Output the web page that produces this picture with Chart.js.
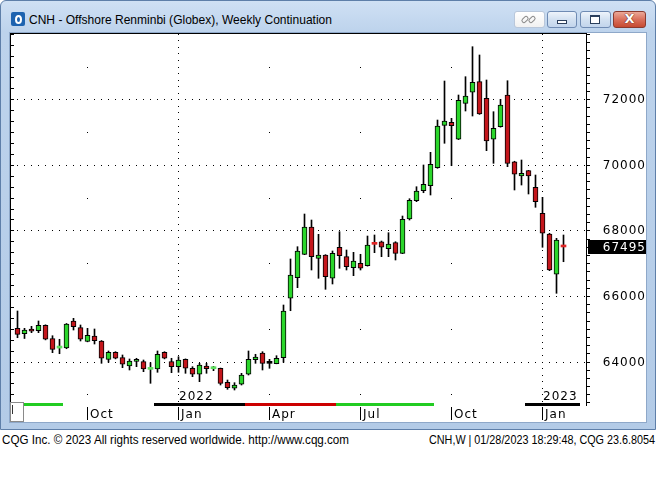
<!DOCTYPE html>
<html><head><meta charset="utf-8">
<script src="https://cdn.jsdelivr.net/npm/chart.js@4.4.1/dist/chart.umd.min.js"></script>
<style>
html,body{margin:0;padding:0;background:#fff;width:656px;height:496px;overflow:hidden;font-family:"Liberation Sans",Arial,sans-serif;position:relative}
#win{position:absolute;left:0;top:0;width:654px;height:428px;border:1px solid #5e7fa9;border-radius:6px 6px 0 0;background:linear-gradient(#cfe0f4 0px,#bdd3ec 31px,#b3cbe7 100%)}
#panel{position:absolute;left:9px;top:32px;width:636px;height:389px;background:#fff;border:1px solid #8ea8c9}
#c{position:absolute;left:10px;top:33px;width:636px;height:389px}
#icon{position:absolute;left:11px;top:12px;width:14px;height:14px;background:#1d63b0;border-radius:2px}
#icon div{position:absolute;left:4px;top:3px;width:3px;height:5px;border:2px solid #fff;border-radius:50%}
#title{position:absolute;left:29px;top:12px;font-size:13px;color:#000;white-space:nowrap;transform-origin:left top}
.btn{position:absolute;top:11px;height:15px;border:1px solid #6f8bb3;border-radius:3px;background:linear-gradient(#eef4fb,#d3e1f1 50%,#c2d5ec)}
#bl{left:514px;width:29px;background:linear-gradient(#ffffff,#f1f1f1);border-color:#b9c7da}
#bl i{position:absolute;width:6px;height:3px;border:1.5px solid #8b8b8b;border-radius:3px;transform:rotate(-45deg)}
#bm{left:547px;width:28px}
#bm i{position:absolute;left:9px;top:8px;width:8px;height:2px;border:1px solid #2b3f5c;background:#fff}
#bx{left:580px;width:29px}
#bx i{position:absolute;left:9px;top:3px;width:8px;height:6px;border:1px solid #2b3f5c;border-top-width:2px;background:#fff}
#bc{left:613px;width:31px;border-color:#8a3a2e;background:linear-gradient(#eba898,#d9705c 50%,#c64a31)}
#bc i{position:absolute;left:0;top:-1px;width:31px;text-align:center;font:bold 13px "DejaVu Sans",sans-serif;color:#fff;font-style:normal;text-shadow:0 0 1px #5a1a10,0 0 1px #5a1a10}
.foot{position:absolute;top:433px;font-size:12px;color:#000;white-space:nowrap;transform-origin:left top}
</style></head>
<body>
<div id="win"></div>
<div id="icon"><div></div></div>
<div id="title">CNH - Offshore Renminbi (Globex), Weekly Continuation</div>
<div class="btn" id="bl"><i style="left:6px;top:5px"></i><i style="left:13px;top:5px"></i></div>
<div class="btn" id="bm"><i></i></div>
<div class="btn" id="bx"><i></i></div>
<div class="btn" id="bc"><i>X</i></div>
<div id="panel"></div>
<canvas id="c" width="636" height="389"></canvas>
<div class="foot" id="f1">CQG Inc. © 2023 All rights reserved worldwide. http://www.cqg.com</div>
<div class="foot" id="f2">CNH,W | 01/28/2023 18:29:48, CQG 23.6.8054</div>
<script>
// ---- data (weekly bars, index 0 = first visible week) ----
const opens  = [65013,64848,64992,64940,65105,64696,64410,64412,65236,65032,64610,64778,64626,64067,64281,64116,63863,64006,63994,63760,
                63771,64281,63994,63842,64067,63793,63610,63863,63780,63793,63366,63183,63305,63610,64055,64260,63945,63933,64116,65929,
                66557,67271,68104,67149,67250,66539,67485,67198,66862,66996,66923,67595,67655,67442,67625,67301,68348,68906,69211,69364,
                69913,71207,71298,70780,71878,72214,72537,72031,70780,71164,72131,70096,69660,69822,69315,68522,67890,66661,67510];
const highs  = [65541,65013,65074,65236,65120,64787,64678,65160,65318,65114,65013,64992,64640,64321,64300,64199,64077,64098,64046,63964,
                64321,64300,64098,64147,64080,63842,63945,63945,63850,63800,63436,63354,63640,64321,64220,64299,64067,64177,65724,67128,
                67503,68500,68317,67881,67260,67372,67961,67402,67332,67271,67829,67860,67676,67930,67655,68439,68967,69333,69996,70383,
                71368,72558,71420,72131,72690,73605,73352,72589,71622,72000,72567,70110,70148,69830,69690,69010,67912,67759,67860];
const lows   = [64726,64702,64879,64879,64660,64269,64238,64390,64961,64626,64600,64534,63945,63976,64080,63811,63741,63842,63689,63335,
                63671,64080,63659,63671,63640,63537,63384,63640,63720,63283,63152,63131,63283,63588,63945,63741,63793,63930,63976,65550,
                66252,67260,66792,66539,66203,66365,66844,66792,66618,66792,66910,67320,67198,67198,67097,67290,68317,68876,69150,69080,
                69895,70658,69974,70770,71643,71490,71540,70432,70047,71150,69944,69233,69385,69111,68705,67485,66771,66081,67045];
const closes = [64830,64961,64922,65105,64678,64372,64430,65144,65062,64678,64800,64635,64098,64281,64098,63915,64015,64067,63771,63780,
                64220,64098,63842,64046,63793,63610,63894,63781,63800,63335,63201,63283,63588,64067,64138,63945,63945,64098,65541,66639,
                67372,68104,67198,67250,66588,67301,67228,66893,67067,66844,67555,67575,67485,67585,67301,68339,68918,69202,69407,70017,
                71185,71338,71195,71970,72101,72519,71551,70728,71115,71826,70047,69712,69742,69660,68876,67912,66792,67707,67495];
const lastPrice = 67495;
const yTickValues = [64000, 66000, 68000, 70000, 72000];
const monthTickIdx = [10, 23, 36, 49, 62, 75];
const monthTickLabels = ['Oct', 'Jan', 'Apr', 'Jul', 'Oct', 'Jan'];
const yearIdx = [23, 75];
const yearLabels = ['2022', '2023'];
const stripBreaks = [6.5, 19.5, 32.5, 45.5, 59.5, 72.5, 80.4];
const stripColors = ['#22cc22', '#ffffff', '#000000', '#cc0000', '#22cc22', '#ffffff', '#000000'];

const GREEN = '#2bd62b', RED = '#c4161c';
const isDash = i => Math.abs(closes[i] - opens[i]) < 40;

const deco = {
  id: 'deco',
  beforeDatasetsDraw(chart) {
    const {ctx, chartArea: a, scales: {x, y}} = chart;
    ctx.save();
    ctx.fillStyle = '#000';
    const iMin = Math.ceil(x.min), iMax = Math.floor(x.max);
    for (const v of yTickValues) {
      const py = Math.round(y.getPixelForValue(v));
      for (let i = iMin; i <= iMax; i++) {
        const px = Math.floor(x.getPixelForValue(i));
        if (px > a.left + 2 && px < a.right - 1) ctx.fillRect(px, py, 1, 1);
      }
    }
    for (const idx of yearIdx) {
      const px = Math.floor(x.getPixelForValue(idx));
      for (let v = Math.ceil(y.min / 200) * 200; v <= y.max; v += 200) {
        ctx.fillRect(px, Math.round(y.getPixelForValue(v)), 1, 1);
      }
    }
    for (const idx of monthTickIdx) {
      if (yearIdx.includes(idx)) continue;
      const px = Math.floor(x.getPixelForValue(idx));
      for (let v = Math.ceil((y.min - 1000) / 2000) * 2000 + 1000; v <= y.max; v += 2000) {
        ctx.fillRect(px, Math.round(y.getPixelForValue(v)), 1, 1);
      }
    }
    ctx.restore();
  },
  afterDraw(chart) {
    const {ctx, chartArea: a, scales: {x, y}} = chart;
    ctx.save();
    ctx.fillStyle = '#000';
    // frame lines
    ctx.fillRect(a.left, a.top, a.right - a.left + 1, 1);
    ctx.fillRect(a.left, a.top, 1, a.bottom - a.top);
    ctx.fillRect(a.right, a.top, 1, a.bottom - a.top + 3);
    // right axis minor ticks (every 250)
    for (let v = Math.ceil(y.min / 250) * 250; v <= y.max; v += 250) {
      ctx.fillRect(a.right + 1, Math.round(y.getPixelForValue(v)), 3, 1);
    }
    // left inner ticks (every 1000/3)
    for (let n = Math.ceil(y.min * 3 / 1000); n * 1000 / 3 <= y.max; n++) {
      ctx.fillRect(a.left + 1, Math.round(y.getPixelForValue(n * 1000 / 3)), 3, 1);
    }
    // y labels
    ctx.font = '12px "DejaVu Sans"';
    ctx.letterSpacing = '1px';
    ctx.textAlign = 'right';
    ctx.textBaseline = 'middle';
    for (const v of yTickValues) {
      ctx.fillText(String(v), chart.width, Math.round(y.getPixelForValue(v)) + 1);
    }
    // last price box
    const pp = Math.round(y.getPixelForValue(lastPrice));
    ctx.fillStyle = '#000';
    ctx.fillRect(a.right + 2, pp - 7, chart.width - a.right - 2, 14);
    ctx.fillStyle = '#fff';
    ctx.fillText(String(lastPrice), chart.width, pp + 1);
    // year labels inside plot
    ctx.fillStyle = '#000';
    ctx.textAlign = 'left';
    ctx.textBaseline = 'alphabetic';
    yearIdx.forEach((idx, k) => {
      const px = Math.floor(x.getPixelForValue(idx));
      ctx.fillText(yearLabels[k], px + 1, a.bottom - 3);
    });
    // contract strip
    let start = x.min;
    stripBreaks.forEach((b, k) => {
      const x0 = Math.round(x.getPixelForValue(start)), x1 = Math.round(x.getPixelForValue(b));
      ctx.fillStyle = stripColors[k];
      ctx.fillRect(x0, a.bottom, x1 - x0, 3);
      start = b;
    });
    // month ticks & labels
    ctx.fillStyle = '#000';
    ctx.font = '12px "DejaVu Sans"';
    ctx.letterSpacing = '1px';
    monthTickIdx.forEach((idx, k) => {
      const px = Math.floor(x.getPixelForValue(idx));
      ctx.fillRect(px, a.bottom + 4, 1, 13);
      ctx.fillText(monthTickLabels[k], px + 3, a.bottom + 15);
    });
    // scroll box
    ctx.fillStyle = '#fff';
    ctx.fillRect(a.left, a.bottom - 1, 14, 20);
    ctx.strokeStyle = '#8a8a8a';
    ctx.lineWidth = 1;
    ctx.strokeRect(a.left + 0.5, a.bottom - 0.5, 13, 19);
    ctx.fillStyle = '#333';
    ctx.fillRect(a.left + 2, a.bottom + 2, 1, 9);
    ctx.restore();
  }
};

const idx = opens.map((_, i) => i);
new Chart(document.getElementById('c'), {
  type: 'bar',
  data: {
    datasets: [
      {
        label: 'wick',
        data: idx.map(i => ({x: i, y: [lows[i], highs[i]]})),
        backgroundColor: '#000',
        borderWidth: 0,
        barThickness: 1,
        grouped: false,
        order: 2
      },
      {
        label: 'body',
        data: idx.map(i => ({x: i, y: [opens[i], closes[i]]})),
        backgroundColor: c => {
          const i = c.dataIndex, d = closes[i] - opens[i];
          if (isDash(i)) return d > 0 ? '#5ee05e' : d < 0 ? '#e02626' : '#000';
          return d > 0 ? GREEN : RED;
        },
        borderColor: '#000',
        borderWidth: c => isDash(c.dataIndex) ? 0 : 1,
        borderSkipped: false,
        barThickness: 5,
        minBarLength: 2,
        grouped: false,
        order: 1
      }
    ]
  },
  options: {
    responsive: false,
    animation: false,
    devicePixelRatio: 1,
    events: [],
    layout: {padding: {left: 0, top: 0, right: 60, bottom: 19}},
    plugins: {legend: {display: false}, tooltip: {enabled: false}},
    scales: {
      x: {type: 'linear', display: false, offset: false, min: -7.5 / 7, max: (576 - 7.5) / 7},
      y: {type: 'linear', display: false, min: 62734, max: 74023}
    }
  },
  plugins: [deco]
});

function fit(id, w, left) {
  const el = document.getElementById(id);
  el.style.left = left + 'px';
  const r = el.getBoundingClientRect().width;
  el.style.transform = 'scaleX(' + (w / r) + ')';
}
fit('title', 303, 29);
fit('f1', 347, 2);
fit('f2', 226, 429);
</script>
</body></html>
